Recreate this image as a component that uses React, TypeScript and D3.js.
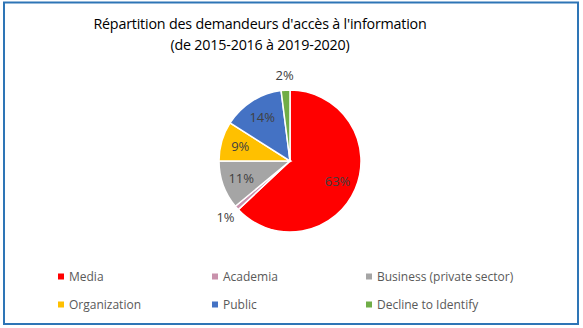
import React from "react";
import * as d3 from "d3";

const categories = ["Media", "Academia", "Business (private sector)", "Organization", "Public", "Decline to Identify"];
const values = [63, 1, 11, 9, 14, 2];
const colors = ["#FF0000", "#C992AC", "#A5A5A5", "#FFC000", "#4472C4", "#70AD47"];
const titleLines = ["Répartition des demandeurs d'accès à l'information", "(de 2015-2016 à 2019-2020)"];

const W = 583, H = 328;
const cx = 290, cy = 161, R = 71;
const FONT = "'Open Sans', 'Liberation Sans', sans-serif";

export default function App() {
  const pie = d3.pie<number>().sort(null).value((d) => d)(values);
  const arc = d3.arc<d3.PieArcDatum<number>>().innerRadius(0).outerRadius(R);
  const labelArc = d3.arc<d3.PieArcDatum<number>>().innerRadius(R * 0.73).outerRadius(R * 0.73);
  const outArc = d3.arc<d3.PieArcDatum<number>>().innerRadius(R + 15).outerRadius(R + 15);
  const total = d3.sum(values);

  const legX = [58, 212, 366];
  const legY = [276.5, 304.5];

  return (
    <svg width={W} height={H} style={{ position: "absolute", left: 0, top: 0 }} fontFamily={FONT}>
      <rect x={0} y={0} width={W} height={H} fill="#fff" />
      <rect x={4} y={2.5} width={574} height={321.5} fill="#fff" stroke="#2E75B6" strokeWidth={2} />
      {titleLines.map((t, i) => (
        <text key={i} x={260} y={29 + i * 21} textAnchor="middle" fontSize={14.3} fill="#000" style={{ letterSpacing: "-0.2px" }}>{t}</text>
      ))}
      <g transform={`translate(${cx},${cy})`}>
        {pie.map((p, i) => (
          <path key={i} d={arc(p) || ""} fill={colors[i]} stroke="#fff" strokeWidth={1.5} />
        ))}
        {pie.map((p, i) => {
          const small = values[i] / total < 0.03;
          const [x, y] = small ? outArc.centroid(p) : labelArc.centroid(p);
          const pct = Math.round((values[i] / total) * 100) + "%";
          return (
            <text key={"l" + i} x={x} y={y} dy="0.35em" textAnchor="middle" fontSize={13} fill="#404040">{pct}</text>
          );
        })}
      </g>
      {categories.map((c, i) => {
        const col = i % 3, row = Math.floor(i / 3);
        return (
          <g key={c} transform={`translate(${legX[col]},${legY[row]})`}>
            <rect x={0} y={-3} width={6} height={6} fill={colors[i]} />
            <text x={11} y={0} dy="0.35em" fontSize={12} fill="#595959">{c}</text>
          </g>
        );
      })}
    </svg>
  );
}
